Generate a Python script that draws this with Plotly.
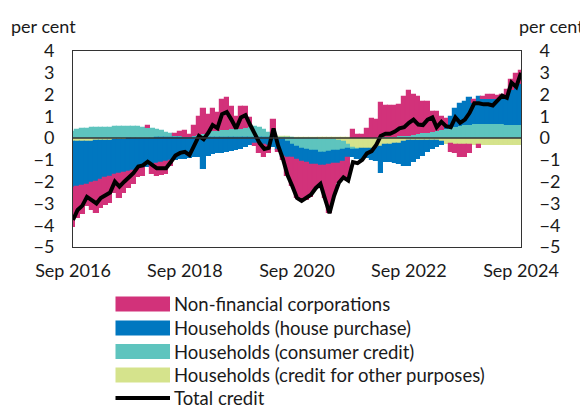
import pandas as pd
import plotly.graph_objects as go

months = pd.date_range("2016-09-01", periods=97, freq="MS")

tick_dates = ["2016-09-01", "2018-09-01", "2020-09-01", "2022-09-01", "2024-09-01"]
tick_labels = ["Sep 2016", "Sep 2018", "Sep 2020", "Sep 2022", "Sep 2024"]
y_ticks = [4, 3, 2, 1, 0, -1, -2, -3, -4, -5]

non_financial = [
    -1.76, -1.4, -1.3, -0.99, -1.22, -1.45, -1.27, -1.21, -1.21, -0.8,
    -1.07, -0.9, -0.76, -0.61, -0.36, -0.34, 0.1, -0.4, -0.55, -0.54,
    -0.52, -0.22, 0.09, 0.22, 0.27, 0.08, 0.46, 0.79, 1.14, 0.79,
    1.04, 0.83, 1.41, 1.44, 1.04, 0.58, 1.0, 0.99, 0.41, -0.11,
    -0.45, -0.58, -0.35, 0.68, -0.1, -0.15, -0.84, -1.3, -1.75, -1.82,
    -1.7, -1.46, -1.06, -0.8, -1.47, -2.22, -1.45, -0.88, -0.7, -1.02,
    0.35, 0.14, 0.14, 0.44, 0.9, 0.83, 1.6, 1.42, 1.42, 1.42,
    1.42, 1.8, 2.05, 1.82, 1.72, 1.45, 1.41, 0.9, 0.86, 0.6,
    0.33, -0.35, -0.4, -0.55, -0.55, -0.4, 0.15, -0.15, 0.1, 0.15,
    0.15, 0.15, 0.15, 0.2, 0.45, 0.45, 0.6]

house_purchase = [
    -2.1, -2.05, -2.0, -1.95, -1.9, -1.85, -1.78, -1.72, -1.65, -1.6,
    -1.56, -1.52, -1.48, -1.44, -1.4, -1.36, -1.3, -1.25, -1.2, -1.15,
    -1.1, -1.05, -1.0, -0.97, -0.94, -0.9, -0.87, -0.85, -1.4, -0.8,
    -0.75, -0.7, -0.67, -0.63, -0.6, -0.55, -0.48, -0.4, -0.32, -0.25,
    -0.25, -0.3, -0.35, -0.4, -0.5, -0.75, -0.7, -0.62, -0.6, -0.59,
    -0.6, -0.63, -0.63, -0.62, -0.6, -0.6, -0.6, -0.6, -0.55, -0.43,
    -0.3, -0.4, -0.5, -0.41, -0.5, -0.6, -1.2, -0.76, -0.8, -0.86,
    -0.95, -1.1, -1.15, -0.95, -0.85, -0.72, -0.5, -0.35, -0.25, -0.1,
    0.15, 0.5, 0.85, 1.0, 1.1, 1.2, 0.95, 1.25, 1.15, 1.15,
    1.15, 1.15, 1.2, 1.38, 1.6, 1.9, 1.9]

consumer_credit = [
    0.3, 0.35, 0.4, 0.42, 0.45, 0.45, 0.45, 0.45, 0.48, 0.5,
    0.5, 0.5, 0.5, 0.5, 0.5, 0.48, 0.45, 0.42, 0.38, 0.32,
    0.25, 0.18, 0.12, 0.08, 0.05, 0.05, 0.1, 0.15, 0.2, 0.25,
    0.3, 0.32, 0.35, 0.38, 0.4, 0.4, 0.42, 0.45, 0.5, 0.5,
    0.45, 0.35, 0.2, 0.1, -0.05, -0.1, -0.2, -0.3, -0.38, -0.45,
    -0.5, -0.55, -0.55, -0.6, -0.6, -0.55, -0.5, -0.45, -0.35, -0.2,
    -0.1, -0.05, 0.0, 0.0, 0.0, 0.02, 0.03, 0.05, 0.05, 0.06,
    0.08, 0.1, 0.12, 0.15, 0.18, 0.22, 0.25, 0.3, 0.33, 0.38,
    0.42, 0.46, 0.5, 0.55, 0.58, 0.62, 0.65, 0.65, 0.66, 0.66,
    0.66, 0.65, 0.64, 0.62, 0.6, 0.6, 0.6]

other_purposes = [
    -0.2, -0.2, -0.2, -0.18, -0.18, -0.15, -0.15, -0.12, -0.12, -0.1,
    -0.1, -0.08, -0.06, -0.05, -0.04, -0.03, -0.02, -0.02, -0.01, -0.01,
    -0.01, -0.01, -0.01, -0.01, -0.01, -0.01, 0.01, 0.01, 0.01, 0.01,
    0.01, 0.01, 0.01, 0.01, 0.01, 0.01, 0.01, 0.01, 0.01, 0.01,
    0.02, 0.03, 0.05, 0.06, 0.06, 0.05, 0.04, 0.02, -0.02, -0.04,
    -0.05, -0.06, -0.06, -0.08, -0.08, -0.08, -0.1, -0.12, -0.2, -0.3,
    -0.45, -0.5, -0.5, -0.52, -0.5, -0.45, -0.4, -0.32, -0.3, -0.28,
    -0.25, -0.2, -0.15, -0.13, -0.12, -0.12, -0.12, -0.13, -0.15, -0.2,
    -0.25, -0.28, -0.3, -0.3, -0.3, -0.3, -0.3, -0.3, -0.3, -0.3,
    -0.3, -0.3, -0.3, -0.3, -0.3, -0.3, -0.3]

total_credit = [
    -3.76, -3.3, -3.1, -2.7, -2.85, -3.0, -2.75, -2.6, -2.5, -2.0,
    -2.23, -2.0, -1.8, -1.6, -1.3, -1.25, -1.08, -1.25, -1.38, -1.38,
    -1.38, -1.1, -0.8, -0.68, -0.63, -0.78, -0.3, 0.1, -0.05, 0.25,
    0.6, 0.46, 1.1, 1.2, 0.85, 0.44, 0.95, 1.05, 0.6, 0.15,
    -0.23, -0.5, -0.45, 0.44, -0.35, -0.95, -1.7, -2.2, -2.75, -2.88,
    -2.75, -2.6, -2.3, -2.1, -2.75, -3.45, -2.65, -2.05, -1.8, -1.95,
    -1.1, -1.15, -1.0, -0.7, -0.6, -0.3, 0.1, 0.2, 0.2, 0.3,
    0.45, 0.5, 0.7, 0.85, 0.62, 0.6, 0.85, 0.95, 0.5, 0.75,
    0.55, 0.5, 0.95, 0.7, 0.85, 1.15, 1.6, 1.6, 1.55, 1.55,
    1.5, 1.75, 1.95, 1.85, 2.55, 2.35, 3.0]

PINK = "#D2327A"
BLUE = "#0077C0"
TEAL = "#5EC4BE"
YELLOW = "#D5E38C"
FONT = "Lato"
TXT = "#1a1a1a"
FS = 18
FS_LEG = 18.5

series = [
    ("Households (credit for other purposes)", other_purposes, YELLOW),
    ("Households (consumer credit)", consumer_credit, TEAL),
    ("Households (house purchase)", house_purchase, BLUE),
    ("Non-financial corporations", non_financial, PINK),
]

fig = go.Figure()
for name, vals, col in series:
    fig.add_trace(go.Bar(x=months, y=vals, name=name, marker_color=col,
                         marker_line=dict(width=1.2, color=col), showlegend=False))
fig.add_trace(go.Scatter(x=months, y=total_credit, name="Total credit", mode="lines",
                         line=dict(color="black", width=4), showlegend=False))
fig.add_trace(go.Scatter(x=[months[0]], y=[0], yaxis="y2", mode="markers",
                         marker=dict(opacity=0), showlegend=False, hoverinfo="skip"))

# page has an 8px body margin: figure occupies page pixels 8..588, 8..408
OFF = 8
W, H = 580, 400
L, R, T, B = 73 - OFF, 521 - OFF, 51 - OFF, 247 - OFF
pw, ph = R - L, B - T

fig.update_layout(
    width=W, height=H,
    margin=dict(l=L, r=W - R, t=T, b=H - B, pad=0),
    paper_bgcolor="white", plot_bgcolor="white",
    barmode="relative", bargap=0,
    font=dict(family=FONT, size=FS, color=TXT),
    xaxis=dict(range=["2016-09-01", "2024-09-01"], tickvals=tick_dates, ticktext=tick_labels,
               ticks="outside", ticklen=7, tickcolor="rgba(0,0,0,0)",
               showgrid=False, showline=True, mirror=True, linecolor="#333", linewidth=1,
               zeroline=False, tickfont=dict(size=FS)),
    yaxis=dict(range=[-5, 4], tickvals=y_ticks, ticks="outside", ticklen=14,
               tickcolor="rgba(0,0,0,0)", showgrid=False, zeroline=False,
               showline=True, mirror=True, linecolor="#333", linewidth=1,
               tickfont=dict(size=FS)),
    yaxis2=dict(range=[-5, 4], tickvals=y_ticks, overlaying="y", side="right",
                ticks="outside", ticklen=14, tickcolor="rgba(0,0,0,0)",
                showgrid=False, zeroline=False, showline=False, tickfont=dict(size=FS)),
)

# zero line above bars
fig.add_shape(type="line", xref="paper", yref="y", x0=0, x1=1, y0=0, y1=0,
              line=dict(color="#333", width=1.5), layer="above")

def px_x(px):
    return (px - OFF - L) / pw

def px_y(py):
    return (B - (py - OFF)) / ph

fig.add_annotation(text="per cent", xref="paper", yref="paper", x=px_x(43), y=px_y(26),
                   showarrow=False, xanchor="center", yanchor="middle", font=dict(size=FS))
fig.add_annotation(text="per cent", xref="paper", yref="paper", x=px_x(551), y=px_y(26),
                   showarrow=False, xanchor="center", yanchor="middle", font=dict(size=FS))

legend_items = [
    ("Non-financial corporations", PINK, "box"),
    ("Households (house purchase)", BLUE, "box"),
    ("Households (consumer credit)", TEAL, "box"),
    ("Households (credit for other purposes)", YELLOW, "box"),
    ("Total credit", "black", "line"),
]
row_y = [304, 328, 351.5, 375, 398]
for (label, col, kind), cy in zip(legend_items, row_y):
    if kind == "box":
        fig.add_shape(type="rect", xref="paper", yref="paper",
                      x0=px_x(115.5), x1=px_x(170), y0=px_y(cy - 7.5), y1=px_y(cy + 7.5),
                      fillcolor=col, line=dict(width=0))
    else:
        fig.add_shape(type="line", xref="paper", yref="paper",
                      x0=px_x(115.5), x1=px_x(170), y0=px_y(cy), y1=px_y(cy),
                      line=dict(color=col, width=4))
    fig.add_annotation(text=label, xref="paper", yref="paper", x=px_x(172), y=px_y(cy),
                       showarrow=False, xanchor="left", yanchor="middle", font=dict(size=FS_LEG))

fig.write_html("out.html")
